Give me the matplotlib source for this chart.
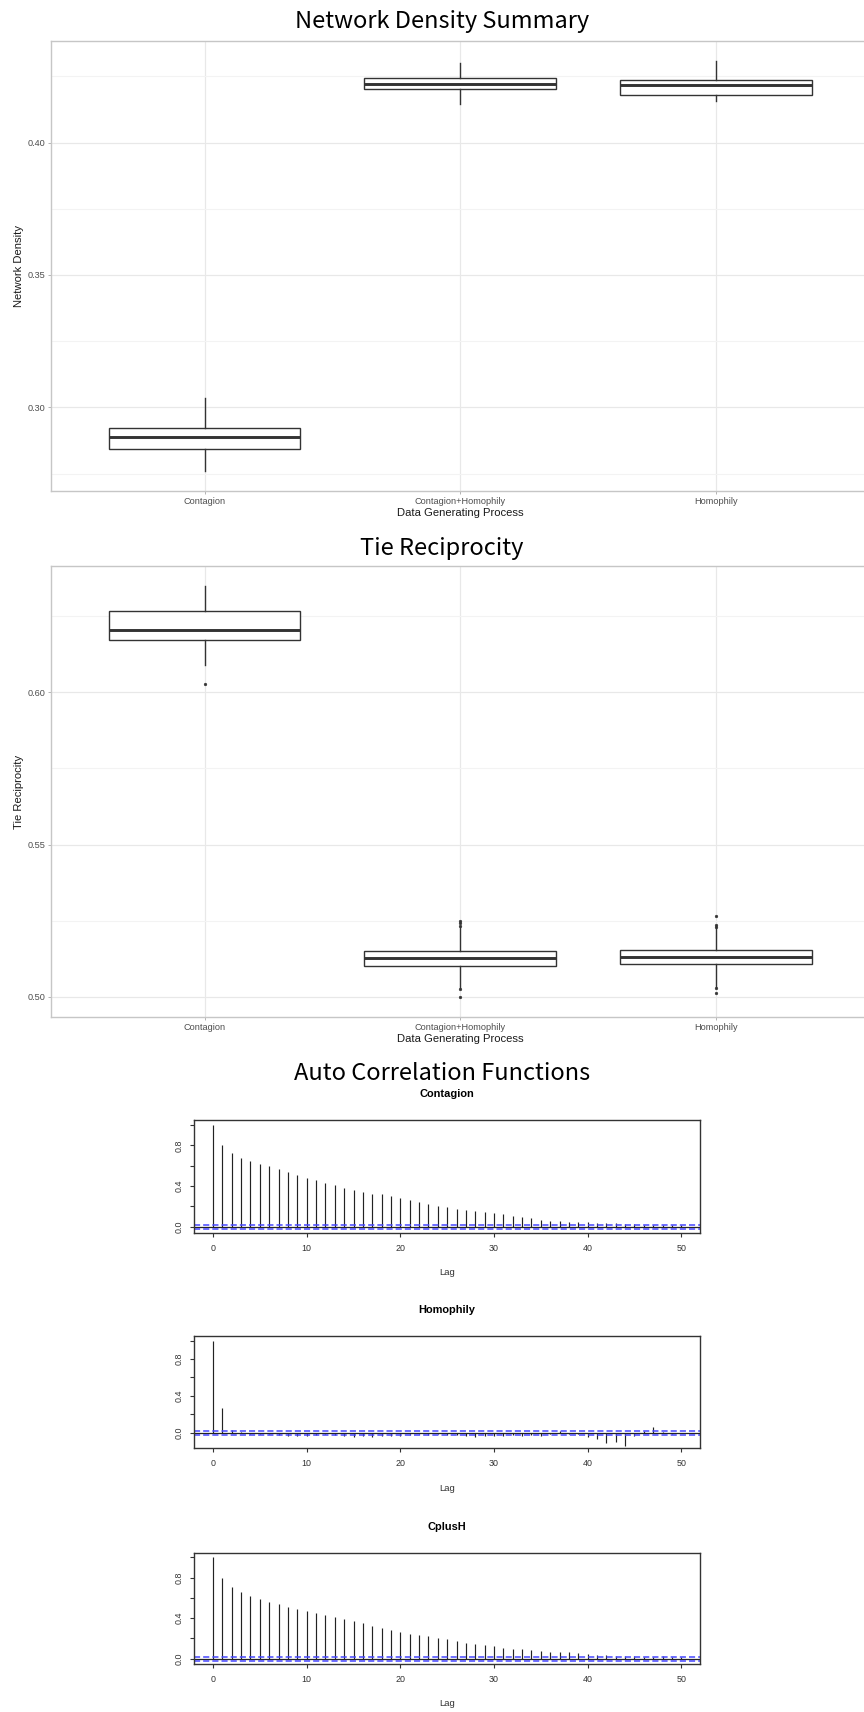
import matplotlib
matplotlib.use("Agg")
import matplotlib.pyplot as plt

plt.rcParams['font.family'] = ['Liberation Sans', 'DejaVu Sans']

# ---- data ----
categories = ["Contagion", "Contagion+Homophily", "Homophily"]

# network density boxes
density_whislo = [0.2759, 0.4144, 0.4159]
density_q1 = [0.2844, 0.4202, 0.4181]
density_med = [0.2887, 0.4223, 0.4217]
density_q3 = [0.2923, 0.4243, 0.4238]
density_whishi = [0.3034, 0.4300, 0.4309]
density_fliers = [[], [], []]

# tie reciprocity boxes
recip_whislo = [0.6091, 0.5029, 0.5032]
recip_q1 = [0.6172, 0.5103, 0.5107]
recip_med = [0.6205, 0.5127, 0.5130]
recip_q3 = [0.6266, 0.5151, 0.5154]
recip_whishi = [0.6350, 0.5231, 0.5226]
recip_fliers = [[0.6027],
                [0.5249, 0.5242, 0.5233, 0.5025, 0.4999],
                [0.5267, 0.5236, 0.5231, 0.5029, 0.5014]]

# autocorrelation functions, lag 0..50
lags = list(range(51))
acf_contagion = [1.0, 0.80, 0.722, 0.68, 0.65, 0.618, 0.592, 0.563, 0.533, 0.504,
                 0.478, 0.455, 0.43, 0.407, 0.384, 0.361, 0.341, 0.325, 0.319, 0.302,
                 0.28, 0.26, 0.241, 0.221, 0.205, 0.189, 0.176, 0.166, 0.153, 0.143,
                 0.137, 0.124, 0.107, 0.094, 0.081, 0.065, 0.052, 0.059, 0.046, 0.046,
                 0.042, 0.036, 0.039, 0.033, 0.029, 0.023, 0.02, 0.02, 0.02, 0.02, 0.02]
acf_homophily = [1.0, 0.264, 0.034, 0.01, -0.01, -0.02, -0.02, -0.03, -0.04, -0.04,
                 -0.04, -0.03, -0.02, -0.03, -0.04, -0.05, -0.04, -0.05, -0.04, -0.04,
                 -0.04, -0.03, -0.02, -0.03, -0.02, -0.03, -0.03, -0.04, -0.05, -0.04,
                 -0.04, -0.04, -0.03, -0.04, -0.03, -0.04, -0.01, 0.02, -0.01, -0.01,
                 -0.05, -0.07, -0.11, -0.10, -0.14, -0.04, 0.02, 0.06, 0.01, -0.01, 0.0]
acf_cplush = [1.0, 0.793, 0.705, 0.655, 0.619, 0.593, 0.563, 0.537, 0.514, 0.487,
              0.467, 0.451, 0.431, 0.415, 0.395, 0.372, 0.349, 0.326, 0.306, 0.283,
              0.263, 0.244, 0.234, 0.224, 0.207, 0.191, 0.171, 0.158, 0.142, 0.135,
              0.128, 0.109, 0.092, 0.095, 0.089, 0.076, 0.069, 0.066, 0.069, 0.056,
              0.046, 0.033, 0.033, 0.026, 0.03, 0.023, 0.02, 0.017, 0.023, 0.02, 0.017]
acf_ci = 0.021

W, H = 864, 1712
fig = plt.figure(figsize=(W / 100, H / 100), dpi=100)
fig.patch.set_facecolor("white")

TITLE_FONT = ["Noto Sans CJK SC", "DejaVu Sans"]


def rect(l, t, r, b):
    return [l / W, 1 - b / H, (r - l) / W, (b - t) / H]


def fx(x):
    return x / W


def fy(y):
    return 1 - y / H


def box_panel(top, bottom, ylim, majors, minors, whislo, q1, med, q3, whishi, fliers, ylab):
    ax = fig.add_axes(rect(51.2, top, 864, bottom))
    stats = []
    for i in range(len(categories)):
        stats.append({"whislo": whislo[i], "q1": q1[i], "med": med[i], "q3": q3[i],
                      "whishi": whishi[i], "fliers": fliers[i]})
    ax.bxp(stats, positions=[0, 1, 2], widths=0.75, showcaps=False, patch_artist=True,
           boxprops=dict(facecolor="white", edgecolor="#333333", linewidth=1.0),
           medianprops=dict(color="#333333", linewidth=2.1),
           whiskerprops=dict(color="#333333", linewidth=1.0),
           flierprops=dict(marker="o", markersize=2.0, markerfacecolor="#333333",
                           markeredgecolor="#333333", markeredgewidth=0.3))
    ax.set_xlim(-0.6, 2.58)
    ax.set_ylim(*ylim)
    ax.set_yticks(majors)
    ax.set_yticks(minors, minor=True)
    ax.set_yticklabels(["%.2f" % v for v in majors])
    ax.set_xticks([0, 1, 2])
    ax.set_xticklabels(categories)
    ax.set_axisbelow(True)
    ax.grid(True, which="major", color="#E8E8E8", linewidth=0.85)
    ax.grid(True, which="minor", axis="y", color="#F3F3F3", linewidth=0.8)
    for s in ["left", "top", "bottom"]:
        ax.spines[s].set_color("#C6C6C6")
        ax.spines[s].set_linewidth(1.0)
    ax.spines["right"].set_visible(False)
    ax.tick_params(which="major", length=2.5, width=0.7, color="#B3B3B3",
                   labelsize=6.6, labelcolor="#4D4D4D", pad=1.8)
    ax.tick_params(which="minor", length=0)
    fig.text(fx(19), fy((top + bottom) / 2), ylab, rotation=90, ha="center", va="center",
             fontsize=8.1, color="#1A1A1A")
    fig.text(fx(460), fy(bottom + 21.5), "Data Generating Process", ha="center",
             va="center", fontsize=8.1, color="#1A1A1A")
    return ax


box_panel(40.7, 491, (0.2684, 0.4385), [0.30, 0.35, 0.40], [0.275, 0.325, 0.375, 0.425],
          density_whislo, density_q1, density_med, density_q3, density_whishi,
          density_fliers, "Network Density")
fig.text(fx(442), fy(21.7), "Network Density Summary", ha="center", va="center",
         fontsize=17, family=TITLE_FONT)

box_panel(565.6, 1017.3, (0.4933, 0.6416), [0.50, 0.55, 0.60], [0.525, 0.575, 0.625],
          recip_whislo, recip_q1, recip_med, recip_q3, recip_whishi,
          recip_fliers, "Tie Reciprocity")
fig.text(fx(442), fy(548.7), "Tie Reciprocity", ha="center", va="center",
         fontsize=17, family=TITLE_FONT)

fig.text(fx(442), fy(1073), "Auto Correlation Functions", ha="center", va="center",
         fontsize=17, family=TITLE_FONT)


def acf_panel(top, bottom, ylim, values, title):
    ax = fig.add_axes(rect(194.3, top, 700, bottom))
    ax.vlines(lags, 0, values, color="#222222", linewidth=0.85)
    ax.axhline(0, color="#222222", linewidth=0.9)
    for c in (acf_ci, -acf_ci):
        ax.axhline(c, color="#4646ff", linewidth=1.1, linestyle=(0, (4, 2)))
    ax.set_xlim(-2, 52)
    ax.set_ylim(*ylim)
    ax.set_xticks([0, 10, 20, 30, 40, 50])
    ax.set_yticks([0.0, 0.2, 0.4, 0.6, 0.8, 1.0])
    ax.set_yticklabels(["0.0", "", "0.4", "", "0.8", ""], rotation=90, va="center")
    for s in ax.spines.values():
        s.set_color("#333333")
        s.set_linewidth(1.0)
    ax.tick_params(length=3.0, width=0.8, color="#333333", labelsize=6.4,
                   labelcolor="#333333", pad=5)
    cx = (194.3 + 700) / 2
    fig.text(fx(cx), fy(top - 25.7), title, ha="center", va="center",
             fontsize=7.9, fontweight="bold")
    fig.text(fx(cx), fy(bottom + 40), "Lag", ha="center", va="center",
             fontsize=6.8, color="#333333")
    return ax


acf_panel(1120, 1232.7, (-0.059, 1.049), acf_contagion, "Contagion")
acf_panel(1336, 1448.3, (-0.17, 1.05), acf_homophily, "Homophily")
acf_panel(1552.7, 1664, (-0.053, 1.047), acf_cplush, "CplusH")

fig.savefig("out.png", dpi=100)
